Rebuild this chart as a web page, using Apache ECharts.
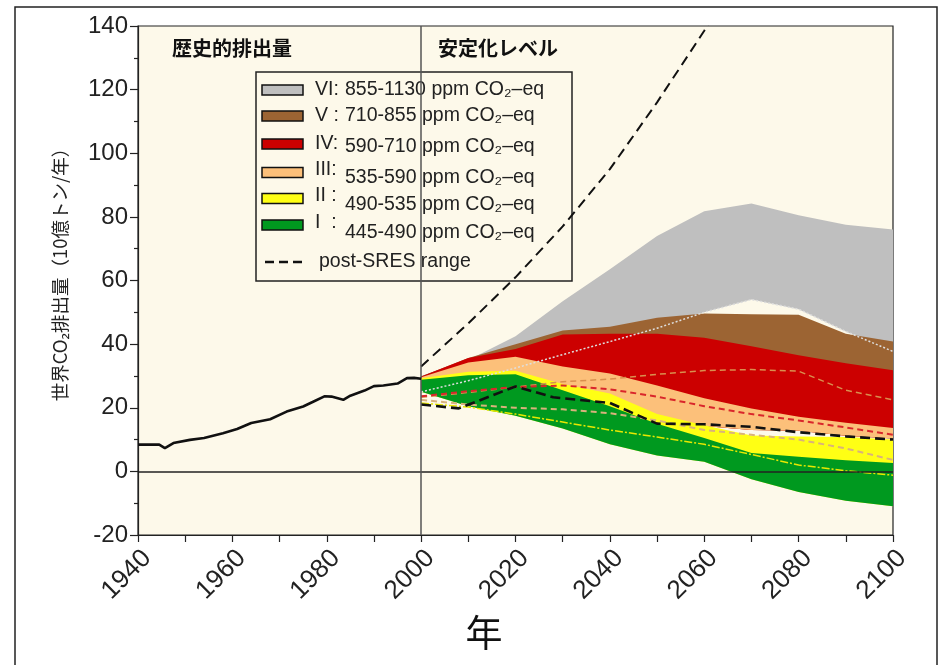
<!DOCTYPE html>
<html>
<head>
<meta charset="utf-8">
<script src="https://cdn.jsdelivr.net/npm/echarts@6/dist/echarts.min.js"></script>
<style>
  html, body { margin: 0; padding: 0; background: #ffffff; }
  #chart { width: 943px; height: 665px; }
</style>
</head>
<body>
<div id="chart"></div>
<script>
// Historical global CO2 emissions (GtCO2/yr)
const histYears  = [1940, 1944.5, 1945.7, 1947.5, 1951, 1954, 1958, 1961, 1964, 1968, 1971.5, 1975, 1977, 1979.5, 1981, 1983.5, 1985, 1988, 1990, 1992, 1995, 1997, 1998.5, 2000];
const histValues = [8.4, 8.4, 7.3, 8.9, 9.9, 10.5, 12.0, 13.3, 15.2, 16.4, 18.8, 20.4, 21.8, 23.6, 23.5, 22.5, 23.8, 25.4, 26.8, 27.0, 27.6, 29.3, 29.4, 29.1];

// Stabilisation scenario ranges, 2000-2100
const scenYears = [2000, 2010, 2020, 2030, 2040, 2050, 2060, 2070, 2080, 2090, 2100];

const catVIHigh  = [30.0, 35.0, 42.5, 53.5, 63.5, 74.0, 81.8, 84.2, 80.5, 77.5, 76.0];
const catVILow   = [25.0, 28.5, 32.5, 36.7, 40.8, 45.0, 50.0, 54.0, 51.0, 44.0, 37.7];
const catVHigh   = [29.8, 35.6, 40.0, 44.3, 45.5, 48.3, 49.6, 49.4, 49.2, 43.3, 40.8];
const catIVHigh  = [29.8, 35.6, 38.5, 43.0, 43.3, 43.3, 42.0, 39.3, 36.5, 34.0, 31.8];
const catIIIHigh = [29.6, 34.2, 36.0, 33.0, 30.8, 27.0, 23.0, 19.8, 17.2, 15.3, 13.6];
const catIIILow  = [25.5, 22.0, 20.0, 18.0, 16.0, 15.0, 14.3, 13.0, 12.8, 11.2, 10.3];
const catIIHigh  = [29.3, 31.3, 31.6, 27.5, 24.5, 18.0, 14.5, 11.3, 11.0, 10.8, 10.0];
const catIHigh   = [28.8, 30.2, 30.5, 25.5, 20.5, 15.0, 10.5, 5.8, 4.6, 3.5, 2.6];
const catILow    = [25.0, 20.5, 17.5, 13.5, 8.5, 5.0, 3.0, -2.5, -6.5, -9.2, -11.0];

// Lower-bound lines drawn over the shaded ranges
const catVLowLine   = [23.3, 24.8, 26.5, 28.2, 29.0, 30.5, 31.7, 32.0, 31.5, 25.5, 22.5];
const catIVLowLine  = [23.6, 25.2, 26.5, 27.0, 25.8, 23.5, 20.5, 18.0, 16.0, 13.8, 11.5];
const catIIILowLine = [22.5, 21.0, 20.0, 19.5, 18.3, 16.0, 13.0, 11.5, 10.0, 7.2, 3.6];
const catIILowLine  = [21.5, 20.2, 18.0, 15.5, 13.0, 10.8, 8.5, 5.3, 2.0, 0.2, -1.2];

// post-SRES range
const sresHighYears = [2000, 2010, 2020, 2030, 2040, 2050, 2060, 2061];
const sresHigh      = [33.0, 46.5, 61.0, 77.0, 95.0, 116.0, 138.5, 140.8];
const sresLowYears  = [2000, 2008, 2020, 2028, 2040, 2050, 2060, 2070, 2080, 2090, 2100];
const sresLow       = [21.0, 19.8, 26.7, 23.3, 21.5, 15.0, 14.8, 14.0, 12.3, 11.0, 10.0];

// Axis ticks
const yTicks = { min: -20, max: 140, step: 20 };
const xTicks = { min: 1940, max: 2100, step: 10, labelStep: 20 };

// Legend entries
const legendNumerals = ['VI:', 'V :', 'IV:', 'III:', 'II :', 'I  :'];
const legendRanges = [
  '855-1130 ppm CO₂–eq',
  '710-855 ppm CO₂–eq',
  '590-710 ppm CO₂–eq',
  '535-590 ppm CO₂–eq',
  '490-535 ppm CO₂–eq',
  '445-490 ppm CO₂–eq'
];
const legendSres = 'post-SRES range';

const bandColors = ['#bfbfbf', '#9c6433', '#cc0000', '#fcc07a', '#ffff14', '#00991f'];

const NUM_FONT = '"Liberation Sans", Arial, sans-serif';
const CJK_FONT = '"Noto Sans CJK JP", "Noto Sans", sans-serif';
const PLOT_BG = '#fdf9ea';

const pairs = (xs, ys) => xs.map((x, i) => [x, ys[i]]);

// Shaded range between a lower and an upper bound, as one polygon
function band(id, low, high, color) {
  return {
    type: 'custom', name: id, silent: true, z: 2,
    data: scenYears.map((x, i) => [x, low[i], high[i]]),
    encode: { x: 0, y: [1, 2] },
    renderItem: (params, api) => {
      if (params.dataIndex !== 0) return null;
      const top = scenYears.map((x, i) => api.coord([x, high[i]]));
      const bottom = scenYears.map((x, i) => api.coord([x, low[i]])).reverse();
      return {
        type: 'polygon', silent: true,
        shape: { points: top.concat(bottom) },
        style: { fill: color, stroke: null }
      };
    }
  };
}

function line(name, xs, ys, color, width, type, z) {
  return {
    type: 'line', name: name, data: pairs(xs, ys), symbol: 'none', silent: true,
    lineStyle: { color: color, width: width, type: type, cap: 'butt' }, z: z || 3
  };
}

const series = [
  band('VI',  catVILow,  catVIHigh,  bandColors[0]),
  band('V',   catIIILow, catVHigh,   bandColors[1]),
  band('IV',  catIIILow, catIVHigh,  bandColors[2]),
  band('III', catIIILow, catIIIHigh, bandColors[3]),
  band('II',  catILow,   catIIHigh,  bandColors[4]),
  band('I',   catILow,   catIHigh,   bandColors[5]),
  line('VI lower',  scenYears, catVILow,      '#dedede', 1.5, [2, 2]),
  line('V lower',   scenYears, catVLowLine,   '#d98f4e', 1.5, [6, 4]),
  line('IV lower',  scenYears, catIVLowLine,  '#d9262b', 2, [6, 4]),
  line('III lower', scenYears, catIIILowLine, '#d9b27c', 2, [6, 4]),
  line('II lower',  scenYears, catIILowLine,  '#e8e800', 1.5, [8, 2, 2, 2]),
  line('post-SRES high', sresHighYears, sresHigh, '#111111', 2, [10, 6], 4),
  line('post-SRES low',  sresLowYears,  sresLow,  '#111111', 2.6, [10, 5], 4),
  {
    type: 'line', name: 'historical', data: pairs(histYears, histValues), symbol: 'none', silent: true,
    lineStyle: { color: '#111111', width: 2.6 }, z: 5,
    markLine: {
      silent: true, symbol: 'none', label: { show: false },
      lineStyle: { type: 'solid' },
      data: [
        { yAxis: 0, lineStyle: { color: '#222222', width: 1.5 } },
        { xAxis: 2000, lineStyle: { color: '#555555', width: 1.5 } }
      ]
    }
  }
];

// Legend box built from the entries above
const legendRowY  = [90, 116, 144, 172.5, 198.5, 225];
const legendNumY  = [90, 116, 144, 170, 196, 223];
const legendTextY = [90, 116, 147, 178, 205, 233];
const legendChildren = [
  { type: 'rect', shape: { x: 256, y: 72, width: 316, height: 209 },
    style: { fill: PLOT_BG, stroke: '#222222', lineWidth: 1.5 } }
];
legendRanges.forEach((txt, i) => {
  legendChildren.push({ type: 'rect', shape: { x: 262, y: legendRowY[i] - 5, width: 41, height: 10 },
    style: { fill: bandColors[i], stroke: '#111111', lineWidth: 1.5 } });
  legendChildren.push({ type: 'text', x: 315, y: legendNumY[i],
    style: { text: legendNumerals[i], font: '19.5px ' + NUM_FONT, fill: '#222222', textVerticalAlign: 'middle' } });
  legendChildren.push({ type: 'text', x: 345, y: legendTextY[i],
    style: { text: txt, font: '19.5px ' + NUM_FONT, fill: '#222222', textVerticalAlign: 'middle' } });
});
legendChildren.push({ type: 'line', shape: { x1: 265, y1: 262, x2: 303, y2: 262 },
  style: { stroke: '#111111', lineWidth: 2.5, lineDash: [9, 5] } });
legendChildren.push({ type: 'text', x: 319, y: 262,
  style: { text: legendSres, font: '19.5px ' + NUM_FONT, fill: '#222222', textVerticalAlign: 'middle' } });

const option = {
  animation: false,
  backgroundColor: '#ffffff',
  grid: { left: 138, right: 50, top: 26, bottom: 130, show: true,
          backgroundColor: PLOT_BG, borderColor: '#222222', borderWidth: 1.2 },
  xAxis: {
    type: 'value', min: xTicks.min, max: xTicks.max, interval: xTicks.step,
    axisLine: { show: true, onZero: false, lineStyle: { color: '#222222', width: 1.2 } },
    axisTick: { show: true, length: 7, lineStyle: { color: '#222222', width: 1.2 } },
    splitLine: { show: false },
    axisLabel: {
      rotate: 45, margin: 10, fontSize: 26, fontFamily: NUM_FONT, color: '#222222',
      align: 'right', verticalAlign: 'top',
      formatter: v => ((v - xTicks.min) % xTicks.labelStep === 0 ? String(v) : '')
    }
  },
  yAxis: {
    type: 'value', min: yTicks.min, max: yTicks.max, interval: yTicks.step,
    axisLine: { show: true, lineStyle: { color: '#222222', width: 1.2 } },
    axisTick: { show: true, length: 8, lineStyle: { color: '#222222', width: 1.2 } },
    minorTick: { show: true, splitNumber: 2, length: 4, lineStyle: { color: '#222222', width: 1.2 } },
    splitLine: { show: false },
    axisLabel: { margin: 10, fontSize: 24, fontFamily: NUM_FONT, color: '#222222' }
  },
  graphic: [
    { type: 'rect', z: 100, silent: true, shape: { x: 15, y: 7, width: 922, height: 700 },
      style: { fill: 'none', stroke: '#222222', lineWidth: 1.5 } },
    { type: 'text', z: 100, x: 60, y: 270, rotation: Math.PI / 2,
      style: { text: '世界CO₂排出量（10億トン/年）', font: '18.5px ' + CJK_FONT, fill: '#222222',
               textAlign: 'center', textVerticalAlign: 'middle' } },
    { type: 'text', z: 100, x: 172, y: 48,
      style: { text: '歴史的排出量', font: 'bold 20px ' + CJK_FONT, fill: '#111111', textVerticalAlign: 'middle' } },
    { type: 'text', z: 100, x: 438, y: 48,
      style: { text: '安定化レベル', font: 'bold 20px ' + CJK_FONT, fill: '#111111', textVerticalAlign: 'middle' } },
    { type: 'text', z: 100, x: 484, y: 633,
      style: { text: '年', font: '37px ' + CJK_FONT, fill: '#111111', textAlign: 'center', textVerticalAlign: 'middle' } },
    { type: 'group', z: 100, children: legendChildren }
  ],
  series: series
};

const chart = echarts.init(document.getElementById('chart'), null, { renderer: 'canvas' });
chart.setOption(option);
</script>
</body>
</html>
